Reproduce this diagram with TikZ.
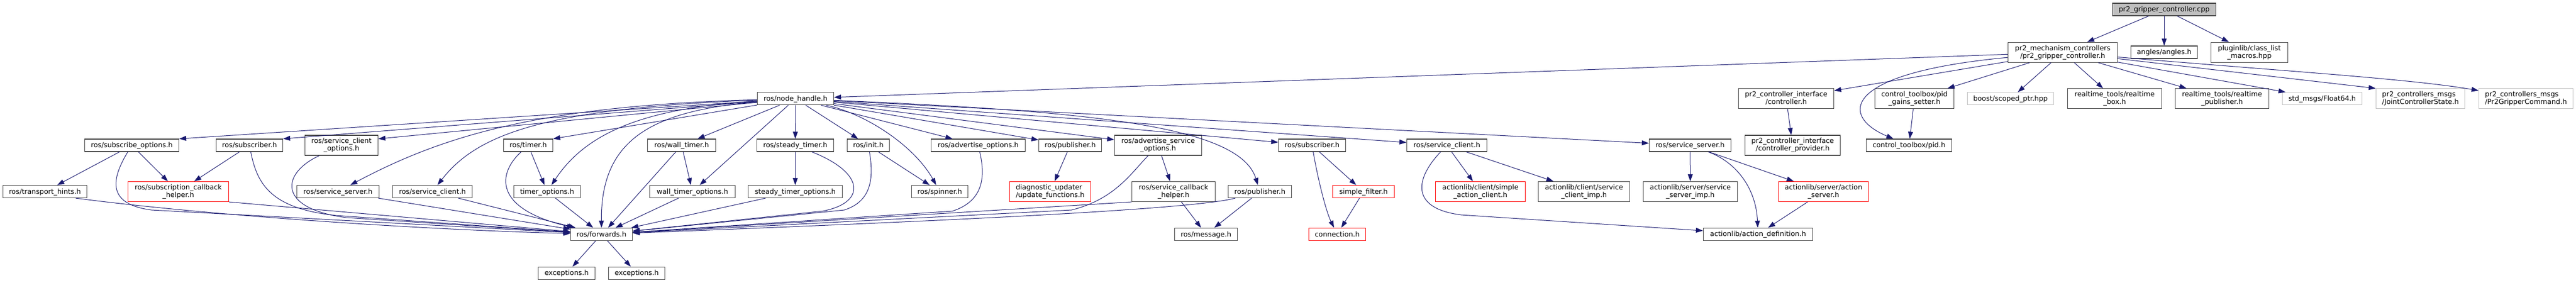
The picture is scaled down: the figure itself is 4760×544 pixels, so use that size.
\documentclass[tikz,border=0pt]{standalone}
\usepackage{fontspec}
\setmainfont{DejaVu Sans}
\usetikzlibrary{arrows.meta}
\definecolor{edgeblue}{HTML}{191970}
\definecolor{boxline}{HTML}{404040}
\definecolor{extline}{HTML}{BFBFBF}
\definecolor{rootfill}{HTML}{BFBFBF}
\newcommand{\boxstrut}{\rule[-2.4pt]{0pt}{13.6pt}}

\begin{document}
\begin{tikzpicture}[x=1pt,y=-1pt,>={Triangle[length=13pt,width=9pt]},
  filebox/.style={draw=boxline,line width=1.2pt,rectangle,inner sep=0pt,minimum height=23pt,
    font=\fontsize{12.8}{14}\selectfont,execute at begin node=\boxstrut,execute at end node=\boxstrut},
  twoline/.style={filebox,minimum height=37pt,align=center},
  trunc/.style={draw=red},
  ext/.style={draw=extline},
  every edge/.style={draw=edgeblue,line width=1pt,->},
  incl/.style={draw=edgeblue,line width=1pt,->}]

\useasboundingbox (0,0) rectangle (4760,544);

% the source file and what it includes
\node[filebox,fill=rootfill,minimum width=191pt] (root) at (3999,17.5) {pr2\_gripper\_controller.cpp};
\node[twoline,minimum width=202pt] (gch) at (3811.5,96.7) {pr2\_mechanism\_controllers\\/pr2\_gripper\_controller.h};
\node[filebox,minimum width=123pt] (ang) at (3999,96.5) {angles/angles.h};
\node[twoline,minimum width=142pt] (plm) at (4156.5,96.7) {pluginlib/class\_list\\\_macros.hpp};

% second level
\node[filebox,minimum width=141pt] (nh) at (1470,182.3) {ros/node\_handle.h};
\node[twoline,minimum width=176pt] (ctl) at (3300.5,182.3) {pr2\_controller\_interface\\/controller.h};
\node[twoline,minimum width=146pt] (pgs) at (3537.5,182.3) {control\_toolbox/pid\\\_gains\_setter.h};
\node[filebox,ext,minimum width=159pt] (bsp) at (3715,182.3) {boost/scoped\_ptr.hpp};
\node[twoline,minimum width=174pt] (rtb) at (3907.5,182.3) {realtime\_tools/realtime\\\_box.h};
\node[twoline,minimum width=173pt] (rtp) at (4106,182.3) {realtime\_tools/realtime\\\_publisher.h};
\node[filebox,ext,minimum width=147pt] (f64) at (4291,182.3) {std\_msgs/Float64.h};
\node[twoline,ext,align=left,minimum width=164pt] (jcs) at (4472.5,182.3) {pr2\_controllers\_msgs\\/JointControllerState.h};
\node[twoline,ext,align=left,minimum width=174pt] (pgc) at (4667.5,182.3) {pr2\_controllers\_msgs\\/Pr2GripperCommand.h};

% third level
\node[filebox,minimum width=174pt] (so) at (243.5,268.5) {ros/subscribe\_options.h};
\node[filebox,minimum width=123pt] (sb1) at (461,268.5) {ros/subscriber.h};
\node[twoline,minimum width=135pt] (sco) at (631,268.5) {ros/service\_client\\\_options.h};
\node[filebox,minimum width=91pt] (tmr) at (976,268.5) {ros/timer.h};
\node[filebox,minimum width=126pt] (wtm) at (1259.5,268.5) {ros/wall\_timer.h};
\node[filebox,minimum width=142pt] (stm) at (1469.5,268.5) {ros/steady\_timer.h};
\node[filebox,minimum width=78pt] (ini) at (1604.5,268.5) {ros/init.h};
\node[filebox,minimum width=174pt] (ado) at (1807.5,268.5) {ros/advertise\_options.h};
\node[filebox,minimum width=116pt] (pb1) at (1977.5,268.5) {ros/publisher.h};
\node[twoline,minimum width=161pt] (aso) at (2140,268.5) {ros/advertise\_service\\\_options.h};
\node[filebox,minimum width=124pt] (sb2) at (2424.5,268.5) {ros/subscriber.h};
\node[filebox,minimum width=148pt] (sc2) at (2673.5,268.5) {ros/service\_client.h};
\node[filebox,minimum width=151pt] (ss2) at (3123,268.5) {ros/service\_server.h};
\node[twoline,minimum width=176pt] (cpr) at (3312.5,268.5) {pr2\_controller\_interface\\/controller\_provider.h};
\node[filebox,minimum width=158pt] (pid) at (3527.5,268.5) {control\_toolbox/pid.h};

% fourth level
\node[filebox,minimum width=155pt] (th) at (83,354) {ros/transport\_hints.h};
\node[twoline,trunc,minimum width=186pt] (sch) at (329.5,354) {ros/subscription\_callback\\\_helper.h};
\node[filebox,minimum width=152pt] (ss1) at (624.5,354) {ros/service\_server.h};
\node[filebox,minimum width=147pt] (sc1) at (799,354) {ros/service\_client.h};
\node[filebox,minimum width=123pt] (tmo) at (1011,354) {timer\_options.h};
\node[filebox,minimum width=158pt] (wto) at (1279.5,354) {wall\_timer\_options.h};
\node[filebox,minimum width=174pt] (sto) at (1469.5,354) {steady\_timer\_options.h};
\node[filebox,minimum width=104pt] (spn) at (1736.5,354) {ros/spinner.h};
\node[twoline,trunc,align=left,minimum width=150pt] (duf) at (1940.5,354) {diagnostic\_updater\\/update\_functions.h};
\node[twoline,minimum width=154pt] (sbh) at (2168.5,354) {ros/service\_callback\\\_helper.h};
\node[filebox,minimum width=117pt] (pb2) at (2328,354) {ros/publisher.h};
\node[filebox,trunc,minimum width=114pt] (sfl) at (2519.5,354) {simple\_filter.h};
\node[twoline,trunc,minimum width=166pt] (sac) at (2735.5,354) {actionlib/client/simple\\\_action\_client.h};
\node[twoline,minimum width=169pt] (sci) at (2927,354) {actionlib/client/service\\\_client\_imp.h};
\node[twoline,minimum width=174pt] (ssi) at (3123.5,354) {actionlib/server/service\\\_server\_imp.h};
\node[twoline,trunc,minimum width=166pt] (acs) at (3369.5,354) {actionlib/server/action\\\_server.h};

% fifth and sixth level
\node[filebox,minimum width=114pt] (fwd) at (1111.5,432.8) {ros/forwards.h};
\node[filebox,minimum width=116pt] (msg) at (2228.5,432.8) {ros/message.h};
\node[filebox,trunc,minimum width=105pt] (con) at (2471,432.8) {connection.h};
\node[filebox,minimum width=202pt] (adf) at (3248.5,432.8) {actionlib/action\_definition.h};
\node[filebox,minimum width=105pt] (ex1) at (1047,504.7) {exceptions.h};
\node[filebox,minimum width=104pt] (ex2) at (1176.5,504.7) {exceptions.h};

% includes of the cpp file
\path (root) edge (gch)
      (root) edge (ang)
      (root) edge (plm);

% includes of the controller header
\path (gch) edge (nh)
      (gch) edge (ctl)
      (gch) edge (pgs)
      (gch) edge (bsp)
      (gch) edge (rtb)
      (gch) edge (rtp)
      (gch) edge (f64)
      (gch) edge (jcs.north west);
\draw[incl] (gch) .. controls (3400,135) and (3400,215) .. (pid);
\draw[incl] (gch) .. controls (4200,130) and (4450,145) .. (pgc);
\path (ctl) edge (cpr)
      (pgs) edge (pid);

% includes of node_handle
\path (nh) edge (so.north east)
      (nh) edge (sb1.north east)
      (nh) edge (sco.10)
      (nh) edge (tmr.north east)
      (nh) edge (wtm)
      (nh) edge (wto)
      (nh) edge (stm)
      (nh) edge (ini)
      (nh) edge (ado)
      (nh) edge (pb1)
      (nh) edge (aso)
      (nh) edge (sb2)
      (nh) edge (sc2)
      (nh) edge (ss2);
\draw[incl] (nh) .. controls (1000,195) and (820,250) .. (ss1);
\draw[incl] (nh) .. controls (1000,200) and (880,250) .. (sc1);
\draw[incl] (nh) .. controls (1180,200) and (1080,250) .. (tmo);
\draw[incl] (nh) .. controls (1200,205) and (1110,260) .. (fwd);
\draw[incl] (nh) .. controls (1600,210) and (1690,270) .. (spn);
\draw[incl] (nh) .. controls (2000,205) and (2290,230) .. (pb2);

% third level includes
\path (so) edge (th)
      (so) edge (sch)
      (sb1) edge (sch)
      (tmr) edge (tmo)
      (wtm) edge (wto)
      (wtm) edge (fwd.45)
      (stm) edge (sto)
      (ini) edge (spn)
      (pb1) edge (duf)
      (aso) edge (sbh)
      (sb2) edge (sfl)
      (sc2) edge (sac)
      (sc2) edge (sci)
      (ss2) edge (ssi)
      (ss2) edge (acs);
\draw[incl] (so) .. controls (200,340) and (205,378) .. (280,388) -- (fwd);
\draw[incl] (sb1) .. controls (475,340) and (500,385) .. (620,398) -- (fwd);
\draw[incl] (sco) .. controls (520,320) and (510,385) .. (640,402) -- (fwd);
\draw[incl] (tmr) .. controls (920,320) and (910,385) .. (fwd);
\draw[incl] (stm) .. controls (1600,320) and (1600,375) .. (1520,390) -- (fwd);
\draw[incl] (ini) .. controls (1615,330) and (1610,372) .. (1560,388) -- (fwd);
\draw[incl] (ado) .. controls (1822,330) and (1815,372) .. (1760,390) -- (fwd);
\draw[incl] (aso) .. controls (2090,320) and (2060,368) .. (1980,388) -- (fwd);
\draw[incl] (sb2) .. controls (2435,330) and (2450,390) .. (con);
\draw[incl] (sc2) .. controls (2615,330) and (2605,385) .. (2700,397) -- (adf);
\draw[incl] (ss2) .. controls (3210,300) and (3245,350) .. (adf);

% fourth level includes
\draw[incl] (th.-12) .. controls (400,400) and (800,425) .. (fwd);
\path (sch.south east) edge (fwd)
      (ss1) edge (fwd)
      (sc1) edge (fwd)
      (tmo) edge (fwd)
      (wto) edge (fwd.25)
      (sto) edge (fwd)
      (sbh.south west) edge (fwd)
      (sbh) edge (msg)
      (pb2) edge (msg)
      (sfl) edge (con)
      (acs) edge (adf);
\draw[incl] (pb2) .. controls (2200,388) and (1700,410) .. (fwd);

% forwards.h
\path (fwd) edge (ex1)
      (fwd) edge (ex2);

\end{tikzpicture}
\end{document}
